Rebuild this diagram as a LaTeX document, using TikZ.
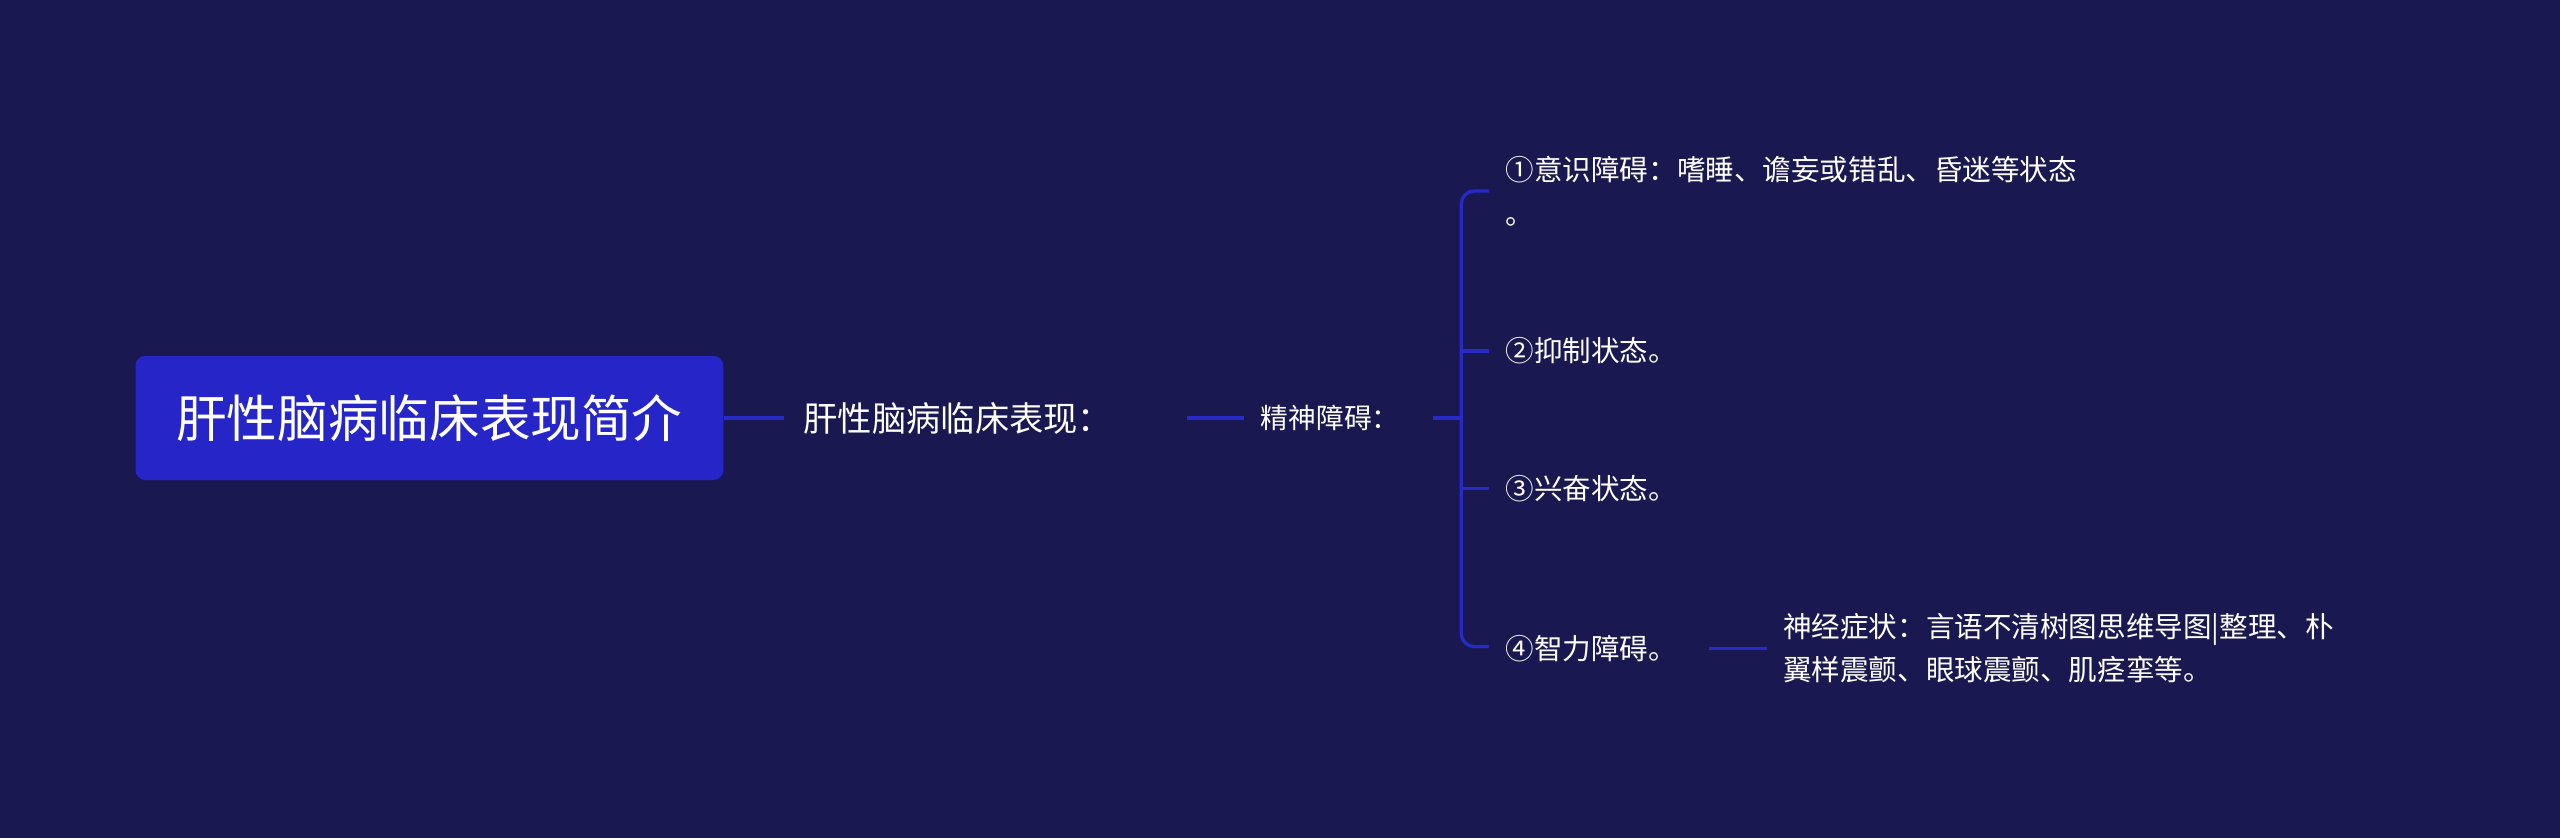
\documentclass[tikz,border=0pt]{standalone}
\usepackage{fontspec}
\setmainfont{Noto Sans CJK SC}
\definecolor{bg}{RGB}{26,24,80}
\definecolor{rootc}{RGB}{38,38,200}
\definecolor{linec}{RGB}{40,42,200}
\begin{document}
\begin{tikzpicture}[x=1pt,y=-1pt,
  txt/.style={text=white,inner sep=0,anchor=west,align=left},
  conn/.style={draw=linec,line width=2pt}]
\fill[bg] (0,0) rectangle (1568,513);
\useasboundingbox (0,0) rectangle (1568,513);
\node[fill=rootc,rounded corners=6pt,minimum width=360pt,minimum height=76pt,text=white,font=\fontsize{31}{34}\selectfont] (root) at (263,256) {肝性脑病临床表现简介};
\node[txt,font=\fontsize{21}{24}\selectfont] (l1) at (492,256) {肝性脑病临床表现：};
\node[txt,font=\fontsize{17}{20}\selectfont] (l2) at (772,256) {精神障碍：};
\node[txt,font=\fontsize{17.5}{27}\selectfont] (a) at (922,117) {①意识障碍：嗜睡、谵妄或错乱、昏迷等状态\\。};
\node[txt,font=\fontsize{17.5}{21}\selectfont] (b) at (922,215) {②抑制状态。};
\node[txt,font=\fontsize{17.5}{21}\selectfont] (c) at (922,299) {③兴奋状态。};
\node[txt,font=\fontsize{17.5}{21}\selectfont] (d) at (922,397) {④智力障碍。};
\node[txt,font=\fontsize{17.5}{26}\selectfont] (e) at (1092,397) {神经症状：言语不清树图思维导图|整理、朴\\翼样震颤、眼球震颤、肌痉挛等。};
\draw[conn] (root.east) -- (480,256);
\draw[conn] (727,256) -- (762,256);
\draw[conn] (878,256) -- (895,256);
\draw[conn,rounded corners=8pt] (912,117) -- (895,117) -- (895,396) -- (912,396);
\draw[conn] (895,215) -- (912,215);
\draw[conn] (895,299) -- (912,299);
\draw[conn] (1047,397) -- (1082,397);
\end{tikzpicture}
\end{document}
